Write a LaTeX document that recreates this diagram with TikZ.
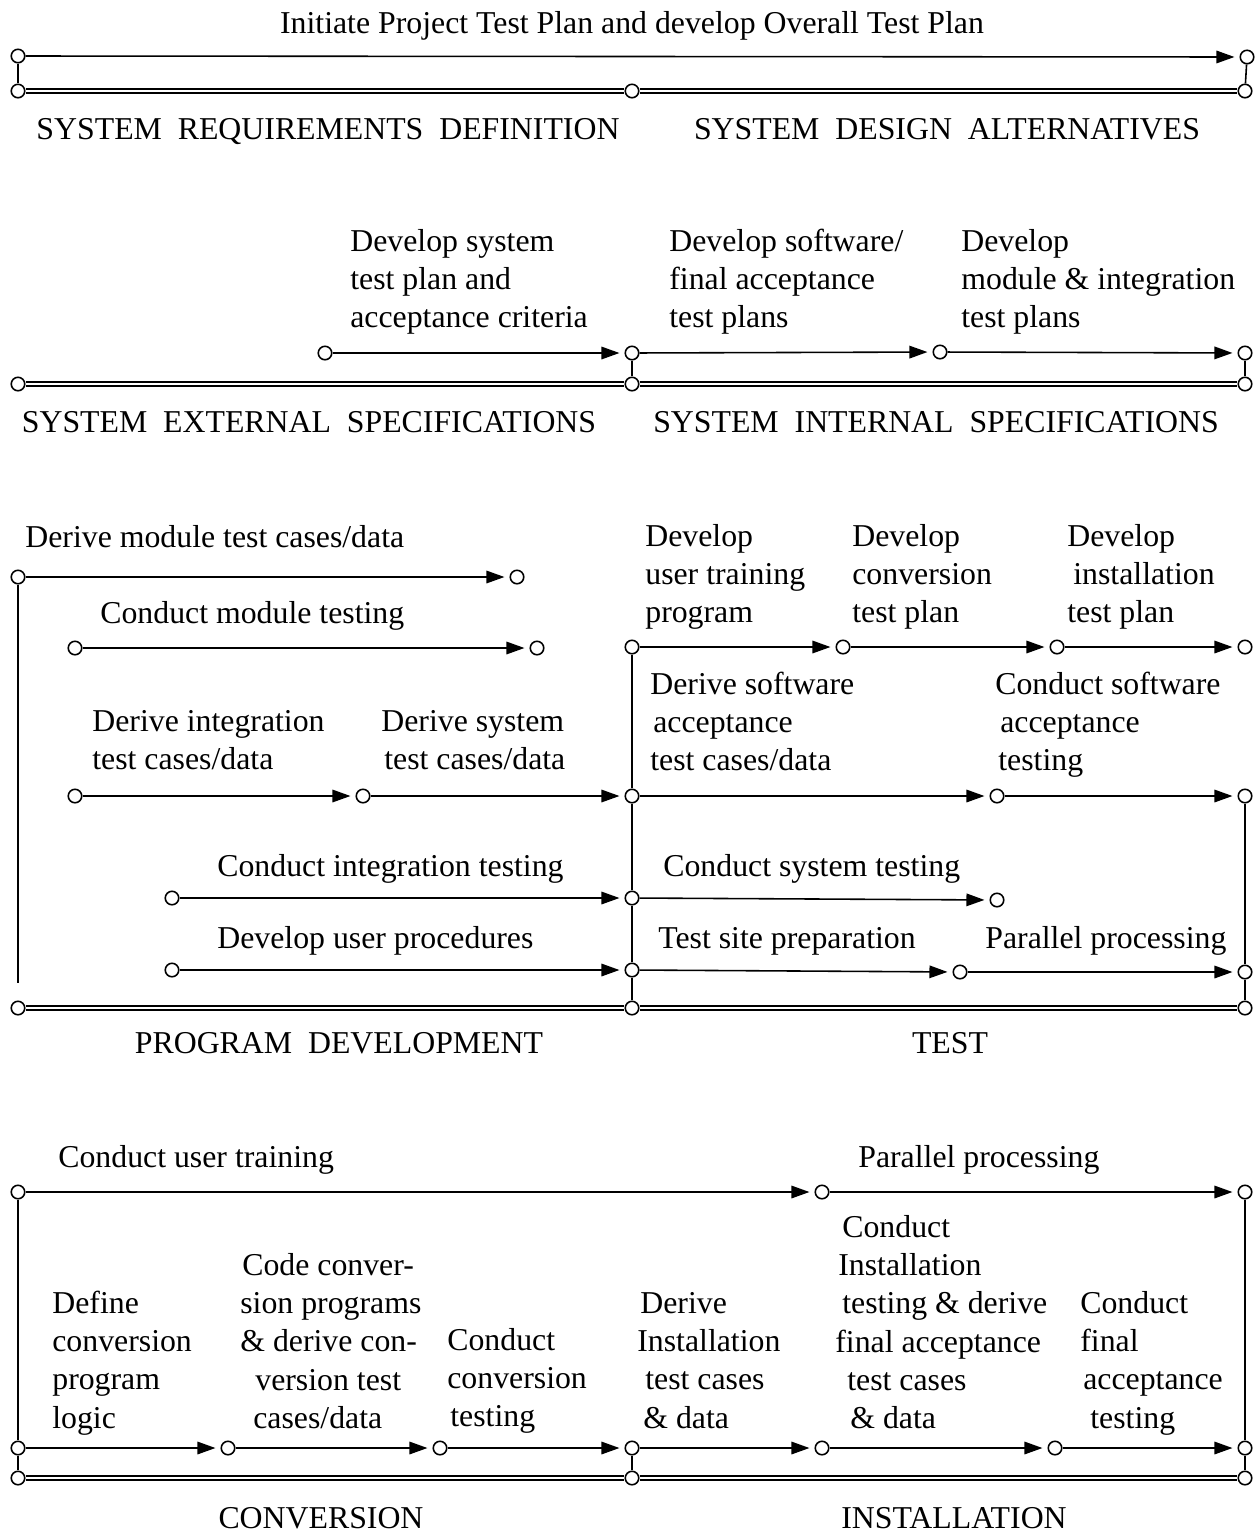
\documentclass[tikz,border=0pt]{standalone}
\usepackage{fontspec}
\setmainfont{Liberation Serif}
\usetikzlibrary{arrows.meta}
\newcommand\fs{\fontsize{18.1}{21.8}\selectfont}
\begin{document}
\begin{tikzpicture}[x=0.02cm, y=-0.02cm,
  dot/.style={circle, draw, fill=white, minimum size=0.27cm, inner sep=0pt, line width=0.9pt},
  arr/.style={-{Triangle[length=0.36cm,width=0.25cm]}, shorten >=0.1cm, line width=0.9pt},
  con/.style={line width=0.9pt},
  dbl/.style={double, double distance=1.4pt, line width=0.9pt},
  lbl/.style={anchor=base west, inner sep=0pt, font=\fs},
  ctr/.style={anchor=base, inner sep=0pt, font=\fs},
  blk/.style={anchor=north west, inner sep=0pt, align=left, font=\fs}]
\useasboundingbox (0,0) rectangle (1257,1539);

% ---------- Section 1 ----------
\node[ctr] (t1) at (632,33) {Initiate Project Test Plan and develop Overall Test Plan};
\node[dot] (a1) at (18,56) {};
\node[dot] (a2) at (1247,57) {};
\node[dot] (b1) at (18,91) {};
\node[dot] (b2) at (632,91) {};
\node[dot] (b3) at (1245,91) {};
\draw[arr] (a1) -- (a2);
\draw[con] (a1) -- (b1);
\draw[con] (a2) -- (b3);
\draw[dbl] (b1) -- (b2);
\draw[dbl] (b2) -- (b3);
\node[ctr] (s1a) at (328,139) {SYSTEM\ \ REQUIREMENTS\ \ DEFINITION};
\node[ctr] (s1b) at (947,139) {SYSTEM\ \ DESIGN\ \ ALTERNATIVES};

% ---------- Section 2 ----------
\node[blk] (t2a) at (350,224) {\strut Develop system\\test plan and\\acceptance criteria};
\node[blk] (t2b) at (669,224) {\strut Develop software/\\final acceptance\\test plans};
\node[blk] (t2c) at (961,224) {\strut Develop\\module \& integration\\test plans};
\node[dot] (c2a) at (325,353) {};
\node[dot] (c2b) at (632,353) {};
\node[dot] (c2c) at (940,352) {};
\node[dot] (c2d) at (1245,353) {};
\node[dot] (d2a) at (18,384) {};
\node[dot] (d2b) at (632,384) {};
\node[dot] (d2c) at (1245,384) {};
\draw[arr] (c2a) -- (c2b);
\draw[arr] (c2b) -- (c2c);
\draw[arr] (c2c) -- (c2d);
\draw[con] (c2b) -- (d2b);
\draw[con] (c2d) -- (d2c);
\draw[dbl] (d2a) -- (d2b);
\draw[dbl] (d2b) -- (d2c);
\node[ctr] (s2a) at (309,432) {SYSTEM\ \ EXTERNAL\ \ SPECIFICATIONS};
\node[ctr] (s2b) at (936,432) {SYSTEM\ \ INTERNAL\ \ SPECIFICATIONS};

% ---------- Section 3 ----------
\node[lbl] (t3a) at (25,547) {Derive module test cases/data};
\node[dot] (c3a) at (18,577) {};
\node[dot] (c3b) at (517,577) {};
\draw[arr] (c3a) -- (c3b);
\coordinate (c3z) at (18,983);
\draw[con] (c3a) -- (c3z);

\node[lbl] (t3b) at (100,623) {Conduct module testing};
\node[dot] (c3c) at (75,648) {};
\node[dot] (c3d) at (537,648) {};
\draw[arr] (c3c) -- (c3d);

\node[blk] (t3c) at (92,704) {\strut Derive integration\\test cases/data};
\node[blk] (t3d) at (381,704) {\strut Derive system\\\hspace*{0.06cm}test cases/data};
\node[dot] (c3e) at (75,796) {};
\node[dot] (c3f) at (363,796) {};
\node[dot] (c3g) at (632,796) {};
\draw[arr] (c3e) -- (c3f);
\draw[arr] (c3f) -- (c3g);

\node[lbl] (t3e) at (217,876) {Conduct integration testing};
\node[dot] (c3h) at (172,898) {};
\node[dot] (c3i) at (632,898) {};
\draw[arr] (c3h) -- (c3i);

\node[lbl] (t3f) at (217,948) {Develop user procedures};
\node[dot] (c3j) at (172,970) {};
\node[dot] (c3k) at (632,970) {};
\draw[arr] (c3j) -- (c3k);

\node[blk] (t3g) at (645,519) {\strut Develop\\user training\\program};
\node[blk] (t3h) at (852,519) {\strut Develop\\conversion\\test plan};
\node[blk] (t3i) at (1067,519) {\strut Develop\\\hspace*{0.12cm}installation\\test plan};
\node[dot] (c3l) at (632,647) {};
\node[dot] (c3m) at (843,647) {};
\node[dot] (c3n) at (1057,647) {};
\node[dot] (c3o) at (1245,647) {};
\draw[arr] (c3l) -- (c3m);
\draw[arr] (c3m) -- (c3n);
\draw[arr] (c3n) -- (c3o);

\node[blk] (t3j) at (650,667) {\strut Derive software\\\hspace*{0.06cm}acceptance\\test cases/data};
\node[blk] (t3k) at (995,667) {\strut Conduct software\\\hspace*{0.1cm}acceptance\\\hspace*{0.06cm}testing};
\node[dot] (c3p) at (997,796) {};
\node[dot] (c3q) at (1245,796) {};
\draw[arr] (c3g) -- (c3p);
\draw[arr] (c3p) -- (c3q);

\node[lbl] (t3l) at (663,876) {Conduct system testing};
\node[dot] (c3r) at (997,900) {};
\draw[arr] (c3i) -- (c3r);

\node[lbl] (t3m) at (658,948) {Test site preparation};
\node[lbl] (t3n) at (985,948) {Parallel processing};
\node[dot] (c3s) at (960,972) {};
\node[dot] (c3t) at (1245,972) {};
\draw[arr] (c3k) -- (c3s);
\draw[arr] (c3s) -- (c3t);

\node[dot] (e1) at (18,1008) {};
\node[dot] (e2) at (632,1008) {};
\node[dot] (e3) at (1245,1008) {};
\draw[con] (c3l) -- (c3g);
\draw[con] (c3g) -- (c3i);
\draw[con] (c3i) -- (c3k);
\draw[con] (c3k) -- (e2);
\draw[con] (c3q) -- (c3t);
\draw[con] (c3t) -- (e3);
\draw[dbl] (e1) -- (e2);
\draw[dbl] (e2) -- (e3);
\node[ctr] (s3a) at (339,1053) {PROGRAM\ \ DEVELOPMENT};
\node[ctr] (s3b) at (950,1053) {TEST};

% ---------- Section 4 ----------
\node[lbl] (t4a) at (58,1167) {Conduct user training};
\node[lbl] (t4b) at (858,1167) {Parallel processing};
\node[dot] (f1) at (18,1192) {};
\node[dot] (f2) at (822,1192) {};
\node[dot] (f3) at (1245,1192) {};
\draw[arr] (f1) -- (f2);
\draw[arr] (f2) -- (f3);

\node[blk] (t4c) at (52,1286) {\strut Define\\conversion\\program\\logic};
\node[blk] (t4d) at (240,1248) {\strut \hspace*{0.04cm}Code conver-\\sion programs\\\& derive con-\\\hspace*{0.3cm}version test\\\hspace*{0.26cm}cases/data};
\node[blk] (t4e) at (447,1323) {\strut Conduct\\conversion\\\hspace*{0.06cm}testing};
\node[blk] (t4f) at (637,1286) {\strut \hspace*{0.06cm}Derive\\Installation\\\hspace*{0.16cm}test cases\\\hspace*{0.12cm}\& data};
\node[blk] (t4g) at (835,1210) {\strut \hspace*{0.14cm}Conduct\\\hspace*{0.06cm}Installation\\\hspace*{0.14cm}testing \& derive\\final acceptance\\\hspace*{0.24cm}test cases\\\hspace*{0.3cm}\& data};
\node[blk] (t4h) at (1080,1286) {\strut Conduct\\final\\\hspace*{0.06cm}acceptance\\\hspace*{0.2cm}testing};

\node[dot] (g1) at (18,1448) {};
\node[dot] (g2) at (228,1448) {};
\node[dot] (g3) at (440,1448) {};
\node[dot] (g4) at (632,1448) {};
\node[dot] (g5) at (822,1448) {};
\node[dot] (g6) at (1055,1448) {};
\node[dot] (g7) at (1245,1448) {};
\draw[arr] (g1) -- (g2);
\draw[arr] (g2) -- (g3);
\draw[arr] (g3) -- (g4);
\draw[arr] (g4) -- (g5);
\draw[arr] (g5) -- (g6);
\draw[arr] (g6) -- (g7);
\draw[con] (f1) -- (g1);
\draw[con] (f3) -- (g7);

\node[dot] (h1) at (18,1478) {};
\node[dot] (h2) at (632,1478) {};
\node[dot] (h3) at (1245,1478) {};
\draw[con] (g1) -- (h1);
\draw[con] (g4) -- (h2);
\draw[con] (g7) -- (h3);
\draw[dbl] (h1) -- (h2);
\draw[dbl] (h2) -- (h3);
\node[ctr] (s4a) at (321,1528) {CONVERSION};
\node[ctr] (s4b) at (954,1528) {INSTALLATION};
\end{tikzpicture}
\end{document}
